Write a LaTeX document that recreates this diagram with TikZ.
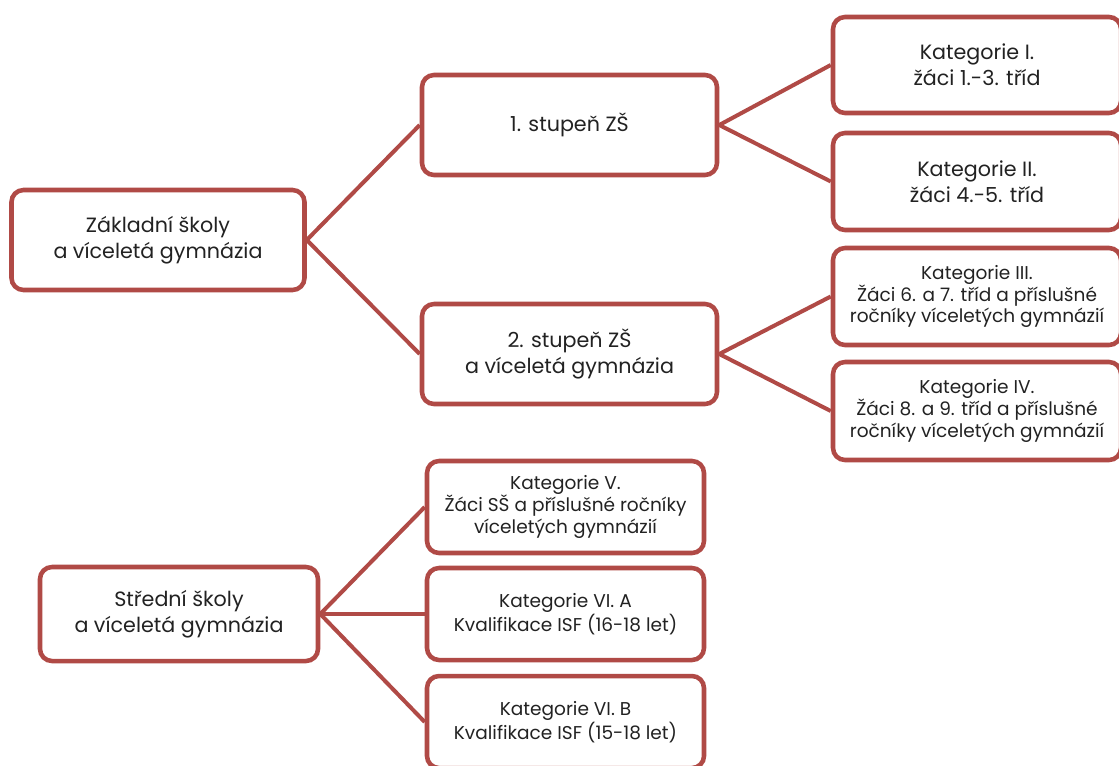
\documentclass[tikz,border=0pt]{standalone}
\usepackage{fontspec}
\setmainfont{Poppins}
\usetikzlibrary{positioning}
\definecolor{boxred}{HTML}{B04A46}
\definecolor{txtgray}{HTML}{222222}
\tikzset{
    catbox/.style={draw=boxred,line width=3.4pt,rounded corners=9pt,fill=white,
        align=center,text=txtgray,inner sep=2pt,font=\fontsize{15.5}{19.5}\selectfont},
    smallbox/.style={catbox,font=\fontsize{13.9}{16.4}\selectfont},
    link/.style={draw=boxred,line width=3pt},
}
\begin{document}
\begin{tikzpicture}[x=0.75pt,y=-0.75pt]
    \useasboundingbox (0,0) rectangle (1119,765);
    % schools
    \node[catbox,minimum width=293*0.75pt,minimum height=100*0.75pt] (zs) at (158,240) {Základní školy\\a víceletá gymnázia};
    \node[catbox,minimum width=278*0.75pt,minimum height=94*0.75pt] (ss) at (179,614) {Střední školy\\a víceletá gymnázia};
    % levels
    \node[catbox,minimum width=295*0.75pt,minimum height=100*0.75pt] (st1) at (569.5,125) {1. stupeň ZŠ};
    \node[catbox,minimum width=295*0.75pt,minimum height=100*0.75pt] (st2) at (569.5,354) {2. stupeň ZŠ\\a víceletá gymnázia};
    % categories
    \node[catbox,minimum width=288*0.75pt,minimum height=96*0.75pt] (k1) at (977,65) {Kategorie I.\\žáci 1.-3. tříd};
    \node[catbox,minimum width=288*0.75pt,minimum height=97*0.75pt] (k2) at (977,181.5) {Kategorie II.\\žáci 4.-5. tříd};
    \node[smallbox,minimum width=288*0.75pt,minimum height=97*0.75pt] (k3) at (977,296.5) {Kategorie III.\\Žáci 6. a 7. tříd a příslušné\\ročníky víceletých gymnázií};
    \node[smallbox,minimum width=288*0.75pt,minimum height=98*0.75pt] (k4) at (977,411) {Kategorie IV.\\Žáci 8. a 9. tříd a příslušné\\ročníky víceletých gymnázií};
    \node[smallbox,minimum width=277*0.75pt,minimum height=92*0.75pt] (k5) at (565.5,507) {Kategorie V.\\Žáci SŠ a příslušné ročníky\\víceletých gymnázií};
    \node[smallbox,minimum width=277*0.75pt,minimum height=92*0.75pt] (k6a) at (565.5,614) {Kategorie VI. A\\Kvalifikace ISF (16-18 let)};
    \node[smallbox,minimum width=277*0.75pt,minimum height=92*0.75pt] (k6b) at (565.5,722) {Kategorie VI. B\\Kvalifikace ISF (15-18 let)};
    % links
    \draw[link] (st1.west) -- (zs.east) -- (st2.west);
    \draw[link] (k1.west) -- (st1.east) -- (k2.west);
    \draw[link] (k3.west) -- (st2.east) -- (k4.west);
    \draw[link] (k5.west) -- (ss.east) -- (k6b.west);
    \draw[link] (ss.east) -- (k6a.west);
\end{tikzpicture}
\end{document}
